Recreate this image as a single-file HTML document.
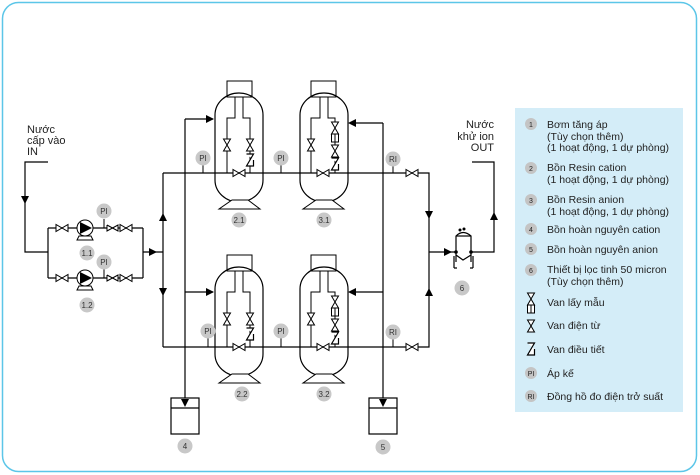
<!DOCTYPE html>
<html><head><meta charset="utf-8"><style>
html,body{margin:0;padding:0;background:#fff;}
svg{display:block;font-family:"Liberation Sans",sans-serif;}
</style></head><body>
<svg width="700" height="475" viewBox="0 0 700 475" xmlns="http://www.w3.org/2000/svg">
<defs>
<path id="vh" d="M-6,-3.5 L-6,3.5 L6,-3.5 L6,3.5 Z" fill="#fff" stroke="#000" stroke-width="1"/>
<path id="vv" d="M-3.5,-6 L3.5,-6 L-3.5,6 L3.5,6 Z" fill="#fff" stroke="#000" stroke-width="1"/>
<g id="reg"><path d="M-3.5,-6 L3.5,-6 L-3.5,6 L3.5,6 L3.5,0" fill="#fff" stroke="#000" stroke-width="1.2"/></g>
<g id="smp"><path d="M-3.5,-6 L3.5,-6 L-3.5,6 L3.5,6 Z" fill="#fff" stroke="#000"/><rect x="-3.5" y="6" width="7" height="8" fill="#fff" stroke="#000"/><line x1="0" y1="6" x2="0" y2="14" stroke="#000"/></g>
<path id="ar" d="M-4,-4 L4,0 L-4,4 Z" fill="#000"/>
<g id="pi"><circle r="7.5" fill="#c8c8c8"/><text y="3" text-anchor="middle" font-size="8" fill="#333">PI</text></g>
<g id="ri"><circle r="7.5" fill="#c8c8c8"/><text y="3" text-anchor="middle" font-size="8" fill="#333">RI</text></g>
<g id="tankA">
 <rect x="227" y="81" width="25" height="16" fill="#fff" stroke="#000"/>
 <rect x="215" y="93" width="48" height="109" rx="24" ry="22" fill="none" stroke="#000" stroke-width="1.2"/>
 <path d="M232,200 L248,200 L260,209 L219,209 Z" fill="#fff" stroke="#000"/>
 <path d="M235,97 V118 H227 V173 M243,97 V118 H250 V173" fill="none" stroke="#000"/>
 <use href="#vv" x="227" y="145"/><use href="#vv" x="250" y="145"/><use href="#reg" x="250" y="160"/>
 <use href="#vh" x="239" y="173"/>
</g>
<g id="tankB">
 <rect x="311" y="81" width="25" height="16" fill="#fff" stroke="#000"/>
 <rect x="300" y="93" width="48" height="109" rx="24" ry="22" fill="none" stroke="#000" stroke-width="1.2"/>
 <path d="M316,200 L332,200 L344,209 L303,209 Z" fill="#fff" stroke="#000"/>
 <path d="M320,97 V118 H311 V173 M328,97 V118 H335 V173" fill="none" stroke="#000"/>
 <use href="#vv" x="311" y="145"/><use href="#smp" x="335" y="128"/><use href="#vv" x="335" y="151"/><use href="#reg" x="335" y="164"/>
 <use href="#vh" x="323" y="173"/>
</g>
<g id="pumprow">
 <path d="M48,0 H143" fill="none" stroke="#000" stroke-width="1.2"/>
 <use href="#vh" x="62" y="0"/>
 <path d="M79,8 L91,8 L93,12 L77,12 Z" fill="#fff" stroke="#000"/>
 <circle cx="85" cy="0" r="8" fill="#fff" stroke="#000"/>
 <path d="M80,-6 L92,0 L80,6 Z" fill="#000"/>
 <line x1="104" y1="0" x2="104" y2="-9" stroke="#000"/>
 <path d="M107,-3 L107,3 L118,-3 L118,3 L107,-3" fill="#fff" stroke="#000"/>
 <use href="#vh" x="126" y="0"/>
</g>
</defs>
<rect x="2.5" y="2.5" width="694" height="469" rx="16" fill="#fff" stroke="#5cc6e8" stroke-width="1.5"/>
<rect x="515" y="108" width="168" height="304" fill="#d4edf8"/>
<g font-size="10.5" fill="#222">
<circle cx="531" cy="124" r="6" fill="#c4c4c4"/><text x="531" y="127" font-size="7" text-anchor="middle">1</text>
<text x="547" y="128">Bơm tăng áp</text><text x="547" y="140">(Tùy chọn thêm)</text><text x="547" y="151">(1 hoạt động, 1 dự phòng)</text>
<circle cx="531" cy="168" r="6" fill="#c4c4c4"/><text x="531" y="171" font-size="7" text-anchor="middle">2</text>
<text x="547" y="171">Bồn Resin cation</text><text x="547" y="183">(1 hoạt động, 1 dự phòng)</text>
<circle cx="531" cy="200" r="6" fill="#c4c4c4"/><text x="531" y="203" font-size="7" text-anchor="middle">3</text>
<text x="547" y="203">Bồn Resin anion</text><text x="547" y="215">(1 hoạt động, 1 dự phòng)</text>
<circle cx="531" cy="229" r="6" fill="#c4c4c4"/><text x="531" y="232" font-size="7" text-anchor="middle">4</text>
<text x="547" y="233">Bồn hoàn nguyên cation</text>
<circle cx="531" cy="249" r="6" fill="#c4c4c4"/><text x="531" y="252" font-size="7" text-anchor="middle">5</text>
<text x="547" y="253">Bồn hoàn nguyên anion</text>
<circle cx="531" cy="270" r="6" fill="#c4c4c4"/><text x="531" y="273" font-size="7" text-anchor="middle">6</text>
<text x="547" y="273">Thiết bị lọc tinh 50 micron</text><text x="547" y="285">(Tùy chọn thêm)</text>
<use href="#smp" x="531" y="299"/><text x="547" y="306">Van lấy mẫu</text>
<use href="#vv" x="531" y="326"/><text x="547" y="329">Van điện từ</text>
<use href="#reg" x="531" y="349"/><text x="547" y="353">Van điều tiết</text>
<circle cx="531" cy="373" r="6" fill="#c4c4c4"/><text x="531" y="376" font-size="7" text-anchor="middle">PI</text>
<text x="547" y="377">Áp kế</text>
<circle cx="531" cy="396" r="6" fill="#c4c4c4"/><text x="531" y="399" font-size="7" text-anchor="middle">RI</text>
<text x="547" y="400">Đồng hồ đo điện trở suất</text>
</g>
<g font-size="11" fill="#222"><text x="27" y="133">Nước</text><text x="27" y="144">cấp vào</text><text x="27" y="155">IN</text></g>
<g fill="none" stroke="#000" stroke-width="1.2">
<path d="M48,162 H25 V252 H48 M48,228 V278 M143,228 V278 M143,252 H163 M163,173 V347"/>
<path d="M163,173 H429 V347 H163"/>
<path d="M185,119 H213 M185,119 V398 M185,292 H213"/>
<path d="M383,123 H350 M383,123 V398 M383,292 H350"/>
<path d="M429,252 H455 M472,252 H494 V162 H472"/>
</g>
<use href="#ar" transform="translate(25,200) rotate(90)"/>
<use href="#ar" x="153" y="252"/>
<use href="#ar" transform="translate(163,217) rotate(-90)"/>
<use href="#ar" transform="translate(163,292) rotate(90)"/>
<use href="#ar" x="210" y="119"/><use href="#ar" x="210" y="292"/>
<use href="#ar" transform="translate(352,123) rotate(180)"/><use href="#ar" transform="translate(352,292) rotate(180)"/>
<use href="#ar" transform="translate(185,403) rotate(90)"/><use href="#ar" transform="translate(383,403) rotate(90)"/>
<use href="#ar" transform="translate(429,215) rotate(90)"/><use href="#ar" transform="translate(429,292) rotate(-90)"/>
<use href="#ar" x="448" y="252"/>
<use href="#ar" transform="translate(494,216) rotate(-90)"/>
<use href="#pumprow" y="228"/><use href="#pumprow" y="278"/>
<use href="#pi" x="104" y="211"/><use href="#pi" x="104" y="262"/>
<g font-size="8" fill="#333" text-anchor="middle">
<circle cx="87" cy="253" r="7.5" fill="#c8c8c8"/><text x="87" y="256">1.1</text>
<circle cx="87" cy="305" r="7.5" fill="#c8c8c8"/><text x="87" y="308">1.2</text>
</g>
<use href="#tankA"/><use href="#tankB"/>
<use href="#tankA" y="174"/><use href="#tankB" y="174"/>
<g stroke="#000"><line x1="203" y1="160" x2="203" y2="173"/><line x1="281" y1="160" x2="281" y2="173"/><line x1="208" y1="334" x2="208" y2="347"/><line x1="281" y1="334" x2="281" y2="347"/><line x1="393" y1="160" x2="393" y2="173"/><line x1="393" y1="334" x2="393" y2="347"/></g>
<use href="#pi" x="203" y="158"/><use href="#pi" x="281" y="158"/><use href="#pi" x="208" y="331"/><use href="#pi" x="281" y="331"/>
<use href="#ri" x="393" y="159"/><use href="#ri" x="393" y="332"/>
<use href="#vh" x="412" y="173"/><use href="#vh" x="412" y="347"/>
<g font-size="8" fill="#333" text-anchor="middle">
<circle cx="239" cy="220" r="7.5" fill="#c8c8c8"/><text x="239" y="223">2.1</text>
<circle cx="324" cy="220" r="7.5" fill="#c8c8c8"/><text x="324" y="223">3.1</text>
<circle cx="242" cy="394" r="7.5" fill="#c8c8c8"/><text x="242" y="397">2.2</text>
<circle cx="324" cy="394" r="7.5" fill="#c8c8c8"/><text x="324" y="397">3.2</text>
<circle cx="185" cy="446" r="7.5" fill="#c8c8c8"/><text x="185" y="449">4</text>
<circle cx="383" cy="447" r="7.5" fill="#c8c8c8"/><text x="383" y="450">5</text>
<circle cx="462" cy="288" r="7.5" fill="#c8c8c8"/><text x="462" y="291">6</text>
</g>
<g fill="none" stroke="#000" stroke-width="1.2"><rect x="171" y="398" width="28" height="36"/><line x1="171" y1="408" x2="199" y2="408"/>
<rect x="369" y="398" width="28" height="36"/><line x1="369" y1="408" x2="397" y2="408"/></g>
<g fill="none" stroke="#000" stroke-width="1.2">
<path d="M456,262 V236 Q463,229 471,236 V262"/>
<line x1="456" y1="236" x2="471" y2="236"/>
<path d="M456,255 L463,260 L471,255"/>
<path d="M454,256 V268 M473,256 V268 M454,268 H457 M473,268 H470"/>
</g>
<circle cx="460" cy="230" r="1.5"/><circle cx="464" cy="229" r="1.5"/><circle cx="456" cy="252" r="1.8"/><circle cx="471" cy="252" r="1.8"/>
<g font-size="11" fill="#222" text-anchor="end"><text x="494" y="128">Nước</text><text x="494" y="140">khử ion</text><text x="494" y="151">OUT</text></g>
</svg>
</body></html>
